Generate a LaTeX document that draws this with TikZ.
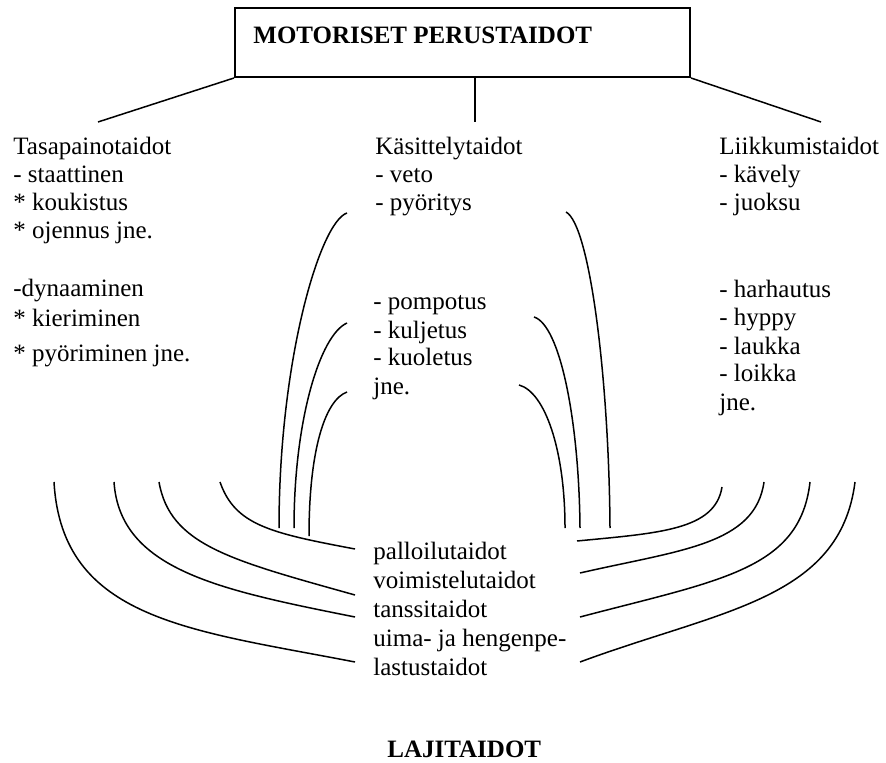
\documentclass[tikz,border=0pt]{standalone}
\usepackage{fontspec}
\setmainfont{Liberation Serif}
\usetikzlibrary{positioning}
\tikzset{teksti/.style={anchor=base west,inner sep=0pt,align=left,font=\fontsize{12.5}{14}\selectfont}}
\tikzset{lihava/.style={teksti,font=\fontsize{12.5}{14}\selectfont\bfseries}}
\tikzset{kehys/.style={draw,line width=1pt,minimum width=227.5pt,minimum height=34.25pt,inner sep=0pt}}
\tikzset{viiva/.style={line width=0.75pt}}

\begin{document}
\begin{tikzpicture}[x=0.5pt,y=-0.5pt]
        \useasboundingbox (0,0) rectangle (886,763);
        \node[kehys] (perus) at (462.5,42.75) {};
        \node[lihava] (motoriset) at (253,44) {MOTORISET PERUSTAIDOT};
        % perustaitojen ryhmat (sijainti = viimeisen rivin perusviiva)
        \node[teksti] (tasa) at (13,239) {Tasapainotaidot\\- staattinen\\* koukistus\\* ojennus jne.};
        \node[teksti] (dyn) at (13,362) {-dynaaminen\\[1pt]* kieriminen\\[3.5pt]* pyöriminen jne.};
        \node[teksti] (kasittely) at (375,211) {Käsittelytaidot\\- veto\\- pyöritys};
        \node[teksti] (pompotus) at (373,394) {- pompotus\\- kuljetus\\- kuoletus\\jne.};
        \node[teksti] (liikkuminen) at (719,211) {Liikkumistaidot\\- kävely\\- juoksu};
        \node[teksti] (hyppy) at (719,410) {- harhautus\\- hyppy\\- laukka\\- loikka\\jne.};
        \node[teksti,font=\fontsize{12.5}{14.4}\selectfont] (lajit) at (373,675) {palloilutaidot\\voimistelutaidot\\tanssitaidot\\uima- ja hengenpe-\\lastustaidot};
        \node[lihava] (lajitaidot) at (387,757) {LAJITAIDOT};
        % viivat laatikosta
        \coordinate (tasa-yla) at (98,122);
        \coordinate (kasi-yla) at (475,122);
        \coordinate (liik-yla) at (821,122);
        \draw[viiva] (perus.south west) -- (tasa-yla);
        \draw[viiva] (kasi-yla |- perus.south) -- (kasi-yla);
        \draw[viiva] (perus.south east) -- (liik-yla);
        % kasittelytaidot -> lajitaidot, vasen puoli
        \coordinate (kv1-a) at (347,213); \coordinate (kv1-b) at (279,528);
        \coordinate (kv2-a) at (347,323); \coordinate (kv2-b) at (294,528);
        \coordinate (kv3-a) at (347,392); \coordinate (kv3-b) at (309,536);
            \draw[viiva] (kv1-a) .. controls (320,222) and (279,360) .. (kv1-b);
            \draw[viiva] (kv2-a) .. controls (320,335) and (294,420) .. (kv2-b);
            \draw[viiva] (kv3-a) .. controls (325,400) and (309,450) .. (kv3-b);
        % kasittelytaidot -> lajitaidot, oikea puoli
        \coordinate (ko1-a) at (566,212); \coordinate (ko1-b) at (610,528);
        \coordinate (ko2-a) at (534,317); \coordinate (ko2-b) at (580,528);
        \coordinate (ko3-a) at (519,385); \coordinate (ko3-b) at (565,528);
            \draw[viiva] (ko1-a) .. controls (590,225) and (609,380) .. (ko1-b);
            \draw[viiva] (ko2-a) .. controls (560,325) and (579,420) .. (ko2-b);
            \draw[viiva] (ko3-a) .. controls (545,392) and (565,450) .. (ko3-b);
        % tasapainotaidot -> lajitaidot
        \coordinate (lv1-a) at (220,482); \coordinate (lv1-b) at (355,549);
        \coordinate (lv2-a) at (159,482); \coordinate (lv2-b) at (355,595);
        \coordinate (lv3-a) at (114,482); \coordinate (lv3-b) at (355,617);
        \coordinate (lv4-a) at (54,482); \coordinate (lv4-b) at (355,662);
            \draw[viiva] (lv1-a) .. controls (235,525) and (270,533) .. (lv1-b);
            \draw[viiva] (lv2-a) .. controls (170,545) and (230,560) .. (lv2-b);
            \draw[viiva] (lv3-a) .. controls (120,570) and (220,590) .. (lv3-b);
            \draw[viiva] (lv4-a) .. controls (62,620) and (190,630) .. (lv4-b);
        % liikkumistaidot -> lajitaidot
        \coordinate (lo1-a) at (722,487); \coordinate (lo1-b) at (577,541);
        \coordinate (lo2-a) at (764,482); \coordinate (lo2-b) at (580,573);
        \coordinate (lo3-a) at (810,482); \coordinate (lo3-b) at (580,617);
        \coordinate (lo4-a) at (855,482); \coordinate (lo4-b) at (580,662);
            \draw[viiva] (lo1-a) .. controls (715,530) and (660,533) .. (lo1-b);
            \draw[viiva] (lo2-a) .. controls (755,545) and (680,550) .. (lo2-b);
            \draw[viiva] (lo3-a) .. controls (800,570) and (720,580) .. (lo3-b);
            \draw[viiva] (lo4-a) .. controls (840,600) and (720,610) .. (lo4-b);
    \end{tikzpicture}
\end{document}
